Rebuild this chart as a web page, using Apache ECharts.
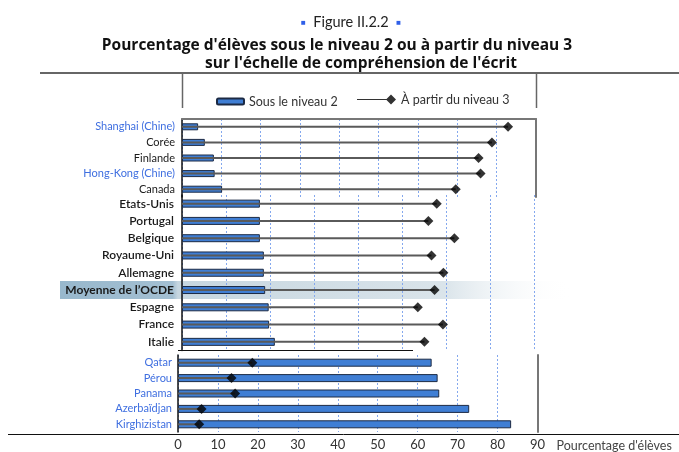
<!DOCTYPE html>
<html>
<head>
<meta charset="utf-8">
<script src="https://cdn.jsdelivr.net/npm/echarts@6/dist/echarts.min.js"></script>
<style>
    html, body { margin: 0; padding: 0; background: #fff; }
    #chart { width: 679px; height: 452px; }
</style>
</head>
<body>
<div id="chart"></div>
<script>
// ---- data ----
var topCats = ["Shanghai (Chine)", "Corée", "Finlande", "Hong-Kong (Chine)", "Canada"];
var topBelow2 = [4.1, 5.8, 8.1, 8.3, 10.2];
var topLevel3 = [82.9, 78.8, 75.4, 75.9, 69.6];

var midCats = ["Etats-Unis", "Portugal", "Belgique", "Royaume-Uni", "Allemagne", "Moyenne de l’OCDE", "Espagne", "France", "Italie"];
var midBelow2 = [17.7, 17.7, 17.7, 18.6, 18.6, 18.9, 19.7, 19.8, 21.1];
var midLevel3 = [57.9, 56.0, 61.9, 56.7, 59.4, 57.4, 53.6, 59.3, 55.1];

var botCats = ["Qatar", "Pérou", "Panama", "Azerbaïdjan", "Kirghizistan"];
var botBelow2 = [63.5, 65.0, 65.4, 72.9, 83.4];
var botLevel3 = [18.6, 13.4, 14.3, 5.9, 5.3];

var xTicks = [0, 10, 20, 30, 40, 50, 60, 70, 80, 90];
var partners = ["Shanghai (Chine)", "Hong-Kong (Chine)", "Qatar", "Pérou", "Panama", "Azerbaïdjan", "Kirghizistan"];

var FONT = "Lato";
var BLUE_TXT = "#3f6fe0";
var GRID_LINE = { show: true, lineStyle: { color: "#84a8ee", type: [2, 2], width: 1 } };

// category labels, partners in blue
function catData(cats, size, weight) {
    return cats.map(function(c) {
        var bold = c.indexOf("OCDE") > -1;
        return {
            value: c,
            textStyle: {
                color: partners.indexOf(c) > -1 ? BLUE_TXT : "#1a1a1a",
                fontSize: size,
                fontWeight: bold ? "bold" : weight,
                fontFamily: FONT
            }
        };
    });
}

var grids = [
    { left: 182, top: 119, width: 354, height: 78 },
    { left: 182, top: 195, width: 352, height: 155.5 },
    { left: 178, top: 355, width: 359.5, height: 79.5 }
];

var xAxes = [
    {
        gridIndex: 0, type: "value", position: "top", min: 0, max: 90, interval: 10,
        axisLine: { show: true, lineStyle: { color: "#777", width: 2 } },
        axisTick: { show: false }, axisLabel: { show: false }, splitLine: GRID_LINE
    },
    {
        gridIndex: 1, type: "value", min: 0, max: 80, interval: 10,
        axisLine: { show: false }, axisTick: { show: false }, axisLabel: { show: false }, splitLine: GRID_LINE
    },
    {
        gridIndex: 2, type: "value", min: 0, max: 90, interval: 10,
        axisLine: { show: false }, axisTick: { show: false },
        axisLabel: {
            color: "#333", fontSize: 13, fontFamily: FONT, margin: 6,
            formatter: function(v) { return xTicks.indexOf(v) > -1 ? String(v) : ""; }
        },
        splitLine: GRID_LINE,
        name: "Pourcentage d'élèves",
        nameLocation: "end",
        nameGap: 19,
        nameTextStyle: { color: "#444", fontSize: 12.5, fontFamily: FONT, verticalAlign: "top", padding: [7, 0, 0, 0] }
    }
];

function catAxis(idx, cats, size, weight, margin) {
    return {
        gridIndex: idx, type: "category", inverse: true, data: catData(cats, size, weight),
        axisLine: { show: true, lineStyle: { color: "#111", width: 1.5 } },
        axisTick: { show: false },
        axisLabel: { margin: margin, interval: 0 }
    };
}
function sideAxis(idx, cats, showLine) {
    return {
        gridIndex: idx, type: "category", inverse: true, position: "right", data: cats,
        axisLine: { show: showLine, lineStyle: { color: "#777", width: 2 } },
        axisTick: { show: false }, axisLabel: { show: false }
    };
}

var yAxes = [
    catAxis(0, topCats, 11, "normal", 7),
    catAxis(1, midCats, 12, 600, 8),
    catAxis(2, botCats, 11, "normal", 6),
    sideAxis(0, topCats, true),
    sideAxis(1, midCats, false),
    sideAxis(2, botCats, true)
];

var series = [];
function addPanel(idx, below, level3, barW) {
    series.push({
        name: "Sous le niveau 2", type: "bar", xAxisIndex: idx, yAxisIndex: idx,
        data: below, barWidth: barW, z: 2,
        itemStyle: { color: "#3f7ed4", borderColor: "#1c2a44", borderWidth: 1 }
    });
    // line from 0 to the level-3 value
    series.push({
        name: "ligne", type: "bar", xAxisIndex: idx, yAxisIndex: idx + 3,
        data: level3, barWidth: 2, z: 3,
        itemStyle: { color: "#5a5a5a" }
    });
    series.push({
        name: "À partir du niveau 3", type: "scatter", xAxisIndex: idx, yAxisIndex: idx + 3,
        data: level3, symbol: "diamond", symbolSize: 10, z: 4,
        itemStyle: { color: "#000" }
    });
}
addPanel(0, topBelow2, topLevel3, 7);
addPanel(1, midBelow2, midLevel3, 8);
addPanel(2, botBelow2, botLevel3, 8);

var option = {
    animation: false,
    backgroundColor: "#fff",
    title: [
        {
            text: "{sq|■}  Figure II.2.2  {sq|■}",
            left: 346, top: 10, textAlign: "center",
            textStyle: {
                fontSize: 14.5, fontWeight: "normal", color: "#222", fontFamily: FONT,
                rich: { sq: { color: "#2f5fe8", fontSize: 8 } }
            }
        },
        {
            text: "Pourcentage d'élèves sous le niveau 2 ou à partir du niveau 3",
            left: 332, top: 33, textAlign: "center",
            textStyle: { fontSize: 15.5, fontWeight: "bold", color: "#111", fontFamily: "Open Sans" }
        },
        {
            text: "sur l'échelle de compréhension de l'écrit",
            left: 356, top: 51, textAlign: "center",
            textStyle: { fontSize: 15.5, fontWeight: "bold", color: "#111", fontFamily: "Open Sans" }
        }
    ],
    legend: [
        {
            data: ["Sous le niveau 2"], left: 211, top: 90, itemWidth: 27, itemHeight: 6,
            selectedMode: false, textStyle: { fontSize: 12.5, color: "#333", fontFamily: FONT }
        },
        {
            data: [{ name: "À partir du niveau 3", icon: "path://M0,4.4H33V5.6H0Z M34,0L39,5L34,10L29,5Z" }],
            left: 352, top: 88, itemWidth: 39, itemHeight: 10, itemGap: 5,
            selectedMode: false, textStyle: { fontSize: 12.5, color: "#333", fontFamily: FONT }
        }
    ],
    grid: grids,
    xAxis: xAxes,
    yAxis: yAxes,
    series: series,
    graphic: [
        // rule under the title and the legend box sides
        { type: "line", shape: { x1: 40, y1: 73, x2: 679, y2: 73 }, style: { stroke: "#666", lineWidth: 2 } },
        { type: "line", shape: { x1: 182.5, y1: 73, x2: 182.5, y2: 108 }, style: { stroke: "#666", lineWidth: 1.5 } },
        { type: "line", shape: { x1: 536.5, y1: 73, x2: 536.5, y2: 108 }, style: { stroke: "#666", lineWidth: 1.5 } },
        // OECD average highlight band
        {
            type: "rect", z: -1, shape: { x: 60, y: 281, width: 512, height: 18 },
            style: {
                fill: new echarts.graphic.LinearGradient(0, 0, 1, 0, [
                    { offset: 0, color: "#98b8cd" },
                    { offset: 0.22, color: "#a3bfd2" },
                    { offset: 0.23, color: "#c6d6e0" },
                    { offset: 0.75, color: "#dae4ea" },
                    { offset: 1, color: "rgba(255,255,255,0)" }
                ])
            }
        },
        // bottom panel top edge and base line
        { type: "line", shape: { x1: 178, y1: 350.5, x2: 413, y2: 350.5 }, style: { stroke: "#111", lineWidth: 1 } },
        { type: "line", shape: { x1: 8, y1: 434.5, x2: 679, y2: 434.5 }, style: { stroke: "#111", lineWidth: 1 } }
    ]
};

var myChart = echarts.init(document.getElementById("chart"));
myChart.setOption(option);
</script>
</body>
</html>
